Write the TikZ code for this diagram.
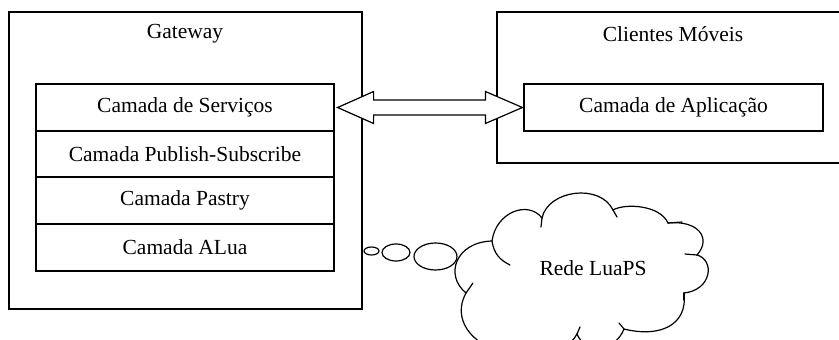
\documentclass[tikz,border=0pt]{standalone}
\usepackage{fontspec}
\setmainfont{Liberation Serif}
\usetikzlibrary{shapes.geometric,calc}
\tikzset{
  frame/.style={draw, line width=1.2pt, inner sep=0pt},
  layer/.style={draw, line width=1.2pt, minimum width=298pt, minimum height=47pt, inner sep=0pt, font=\fontsize{21.5}{24}\selectfont},
  title/.style={inner sep=0pt, font=\fontsize{21.5}{24}\selectfont},
  bubble/.style={draw, ellipse, line width=1.2pt, inner sep=0pt},
  blockarrow/.style={draw, fill=white, line width=1.2pt, line join=miter},
  cloudline/.style={draw, line width=1.2pt, line cap=round}
}
\begin{document}
\begin{tikzpicture}[x=1pt,y=-1pt]
\useasboundingbox (0,0) rectangle (839,340);
\clip (0,0) rectangle (839,340);
% Gateway
\node[frame, minimum width=353pt, minimum height=297pt] (gw) at (185.5,160.5) {};
\node[title] (gwt) at (185,34) {Gateway};
\node[layer] (srv) at (185,107.5) {Camada de Serviços};
\node[layer] (pub) at (185,154) {Camada Publish-Subscribe};
\node[layer] (pas) at (185,200.5) {Camada Pastry};
\node[layer] (alu) at (185,247.5) {Camada ALua};
% Clientes
\node[frame, minimum width=355pt, minimum height=151pt] (cm) at (674.5,87.5) {};
\node[title] (cmt) at (673,34) {Clientes Móveis};
\node[layer, minimum width=299pt] (app) at (673.5,107.5) {Camada de Aplicação};
% block double arrow
\coordinate (L) at ([xshift=3pt]srv.east);
\coordinate (R) at ([xshift=-1pt]app.west);
\draw[blockarrow] (L) -- ($(L)+(36,-16)$) -- ($(L)+(36,-7.5)$) -- ($(R)+(-37,-7.5)$) -- ($(R)+(-37,-16)$)
  -- (R) -- ($(R)+(-37,16)$) -- ($(R)+(-37,7.5)$) -- ($(L)+(36,7.5)$) -- ($(L)+(36,16)$) -- cycle;
% thought bubbles
\node[bubble, minimum width=15pt, minimum height=8pt] (b1) at (371.5,251) {};
\node[bubble, minimum width=28pt, minimum height=17pt] (b2) at (396,252.5) {};
\node[bubble, minimum width=43pt, minimum height=27pt] (b3) at (435.5,256.5) {};
% cloud
\draw[cloudline, fill=white] (466,293)
  .. controls (444,275) and (456,242) .. (492,241)
  .. controls (496,212) and (528,200) .. (542,218)
  .. controls (548,190) and (600,183) .. (613,210)
  .. controls (625,203) and (660,205) .. (668,223)
  .. controls (698,220) and (712,238) .. (697,255)
  .. controls (715,260) and (712,290) .. (684,293)
  .. controls (688,325) and (660,338) .. (624,329)
  .. controls (615,352) and (585,354) .. (577,334)
  .. controls (565,356) and (530,362) .. (505,352)
  .. controls (470,345) and (452,318) .. (466,293) -- cycle;
\draw[cloudline] (492,241) .. controls (494,254) and (500,260) .. (510,265);
\draw[cloudline] (542,218) -- (541,227);
\draw[cloudline] (613,210) -- (617,217);
\draw[cloudline] (668,223) -- (682,222);
\draw[cloudline] (697,255) -- (685,254);
\draw[cloudline] (684,293) -- (684,300);
\draw[cloudline] (624,329) -- (619,323);
\draw[cloudline] (466,293) -- (473,283);
\draw[cloudline] (577,334) -- (580,327);
\node[title] (net) at (593,268) {Rede LuaPS};
\end{tikzpicture}
\end{document}
